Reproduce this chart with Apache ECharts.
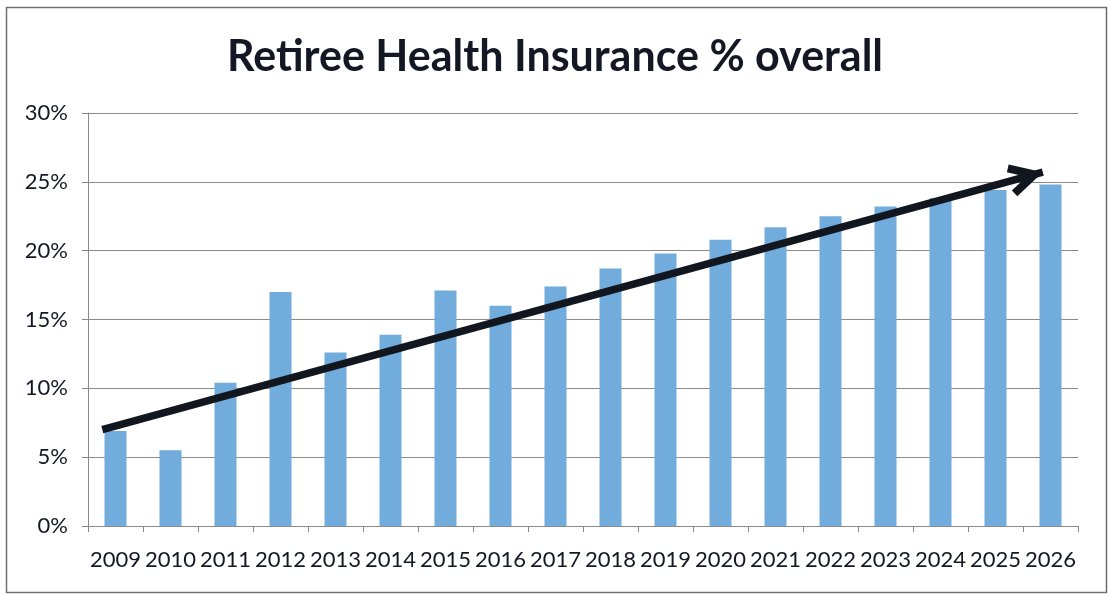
<!DOCTYPE html>
<html>
<head>
<meta charset="utf-8">
<script src="https://cdn.jsdelivr.net/npm/echarts@6/dist/echarts.min.js"></script>
<style>
html,body{margin:0;padding:0;background:#fff;}
#chart{width:1110px;height:596px;}
</style>
</head>
<body>
<div id="chart"></div>
<script>
const titleText = 'Retiree Health Insurance % overall';
const years = ['2009','2010','2011','2012','2013','2014','2015','2016','2017','2018','2019','2020','2021','2022','2023','2024','2025','2026'];
const values = [6.9, 5.5, 10.4, 17.0, 12.6, 13.9, 17.1, 16.0, 17.4, 18.7, 19.8, 20.8, 21.7, 22.5, 23.2, 23.8, 24.4, 24.8];
const yTicks = [0, 5, 10, 15, 20, 25, 30];
// trend arrow: [category position, value]
const arrowStart = [-0.24, 7.0];
const arrowEnd = [16.86, 25.7];

const chevron = 'path://M16.5 0 L32.93 30.9 L25.87 34.65 L16.5 17.04 L7.13 34.65 L0.07 30.9 Z M16.5 -34.65';

const chart = echarts.init(document.getElementById('chart'), null, {renderer:'canvas'});
chart.setOption({
  animation: false,
  backgroundColor: '#ffffff',
  title: {
    text: titleText,
    left: 'center',
    top: 31,
    textStyle: {fontFamily: 'Lato', fontWeight: 'bold', fontSize: 43, color: '#141824'}
  },
  graphic: [{
    type: 'rect', left: 4, top: 5, silent: true,
    shape: {width: 1100, height: 585},
    style: {fill: 'none', stroke: '#6e6e6e', lineWidth: 1.5}
  }],
  grid: {left: 88, right: 32, top: 113, bottom: 70},
  xAxis: [{
    type: 'category',
    data: years,
    axisLine: {lineStyle: {color: '#8a8a8a', width: 1}},
    axisTick: {show: true, length: 6, lineStyle: {color: '#8a8a8a'}},
    axisLabel: {fontFamily: 'Lato', fontSize: 22, color: '#141824', margin: 23, interval: 0}
  }, {
    type: 'value', min: -0.5, max: 17.5, show: false
  }],
  yAxis: {
    type: 'value', min: 0, max: 30, interval: 5,
    axisLine: {show: true, onZero: false, lineStyle: {color: '#8a8a8a', width: 1}},
    axisTick: {show: true, length: 6, lineStyle: {color: '#8a8a8a'}},
    splitLine: {lineStyle: {color: '#8a8a8a', width: 1}},
    axisLabel: {fontFamily: 'Lato', fontSize: 22, color: '#141824', margin: 20,
      formatter: v => yTicks.includes(v) ? v + '%' : ''}
  },
  series: [{
    type: 'bar',
    data: values,
    barWidth: 22,
    itemStyle: {color: '#72acdd'},
    silent: true
  }, {
    type: 'line',
    xAxisIndex: 1,
    data: [arrowStart, arrowEnd],
    symbol: 'none',
    lineStyle: {opacity: 0},
    silent: true,
    markLine: {
      silent: true,
      symbol: ['none', chevron],
      symbolSize: [32.86, 69.3],
      label: {show: false},
      lineStyle: {color: '#12161f', width: 7.5, type: 'solid'},
      emphasis: {disabled: true},
      data: [[{coord: arrowStart}, {coord: arrowEnd}]]
    }
  }]
});
</script>
</body>
</html>
